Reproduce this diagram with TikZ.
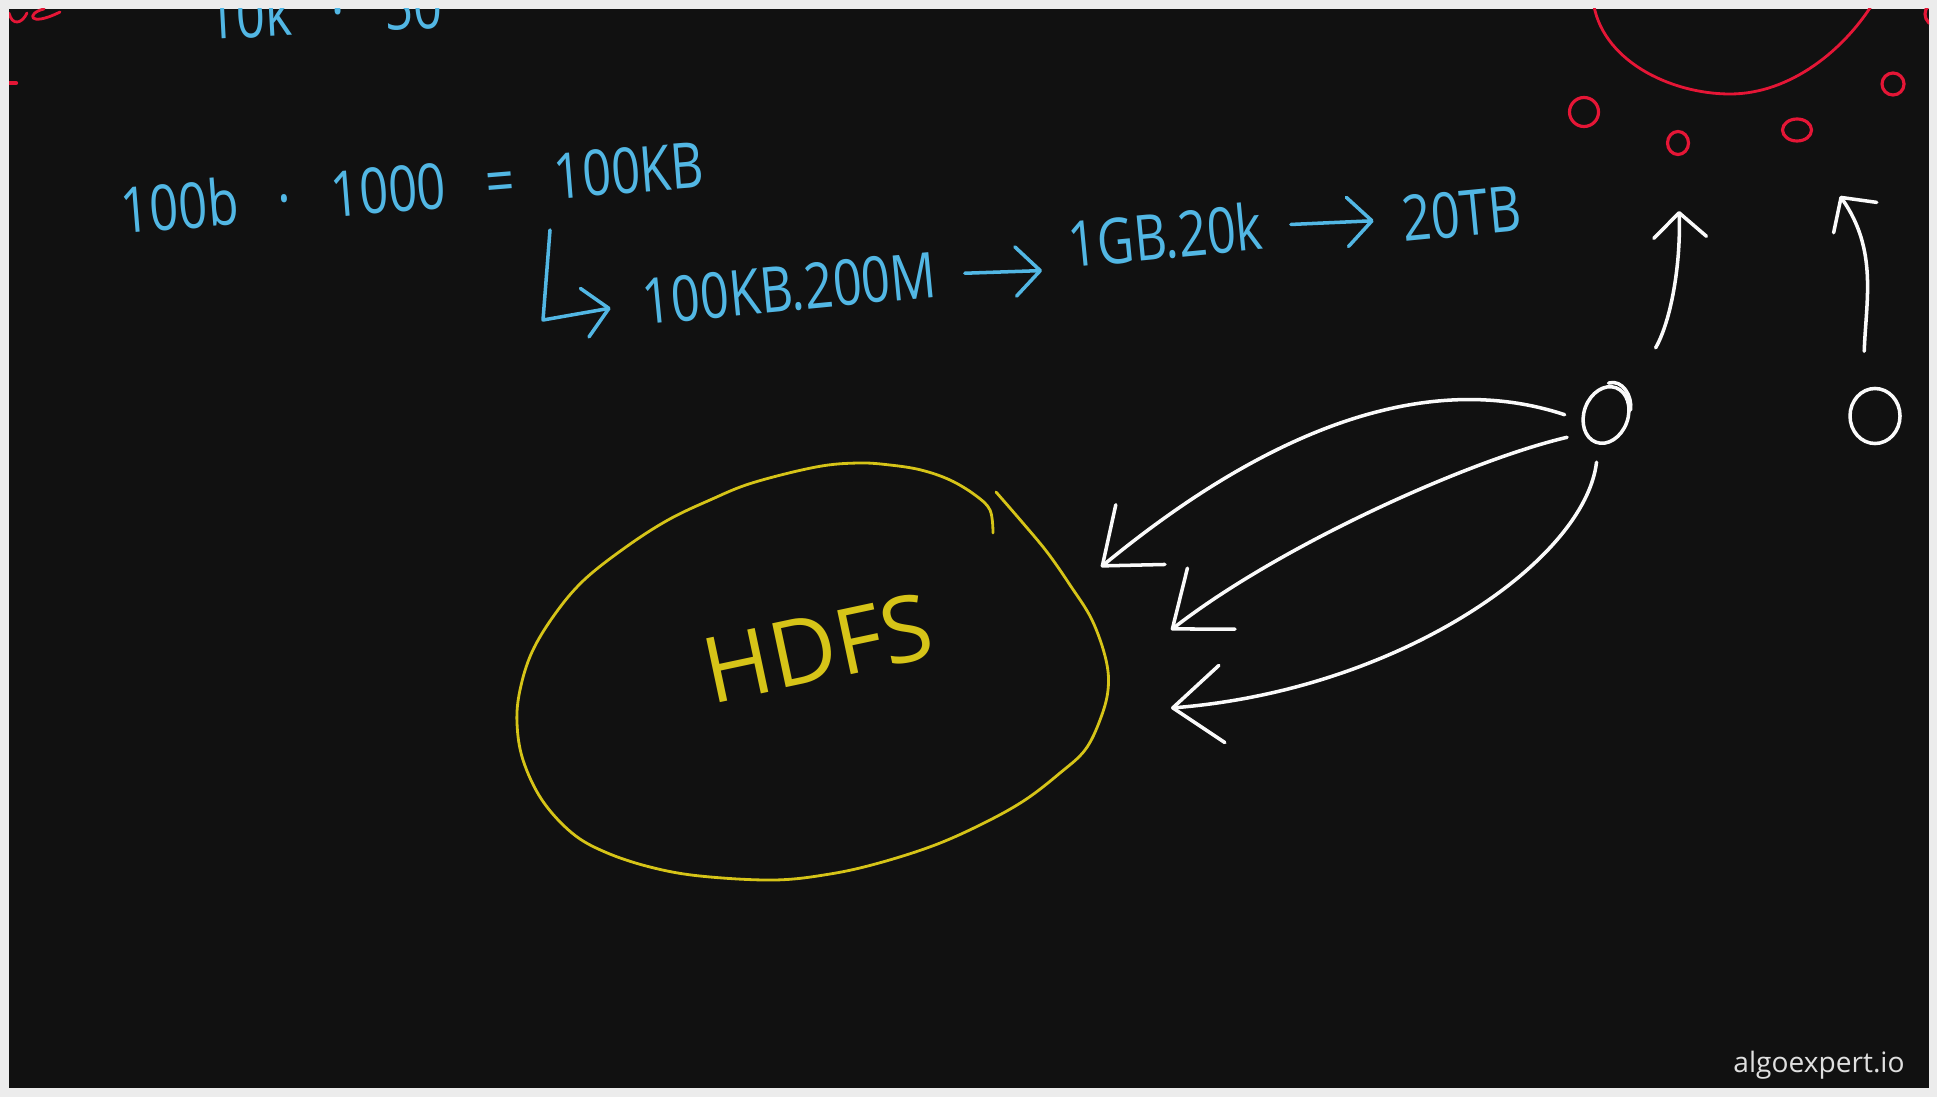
\documentclass[tikz,border=0pt]{standalone}
\usepackage{fontspec}
\setmainfont{Open Sans}
\newfontfamily\handfont{Open Sans}[FakeStretch=0.8,WordSpace=3]
\usepackage{tikz}
\usetikzlibrary{shapes.geometric, arrows.meta, positioning}
\definecolor{boardblack}{RGB}{17,17,17}
\definecolor{framegray}{RGB}{236,236,236}
\definecolor{chalkblue}{RGB}{82,183,228}
\definecolor{chalkyellow}{RGB}{214,196,24}
\definecolor{chalkred}{RGB}{229,22,54}
\definecolor{chalkwhite}{RGB}{250,250,250}
\tikzset{
  chalk/.style={line width=1pt, line cap=round, line join=round},
  blueline/.style={chalk, draw=chalkblue},
  whiteline/.style={chalk, draw=chalkwhite},
  redline/.style={chalk, draw=chalkred, line width=0.8pt},
  handtext/.style={text=chalkblue, font=\handfont\fontsize{18}{20}\selectfont,
    inner sep=0pt, anchor=base west},
  client/.style={ellipse, draw=chalkwhite, line width=1pt, inner sep=0pt},
  reddot/.style={ellipse, draw=chalkred, line width=0.9pt, inner sep=0pt},
  barb/.style={blueline, -{Straight Barb[length=7pt, width=14pt, round]}},
  bigbarb/.style={whiteline, shorten <=5pt, -{Straight Barb[length=14pt, width=22pt, round]}},
  upbarb/.style={whiteline, -{Straight Barb[length=7pt, width=15pt, round]}},
}
\begin{document}
\begin{tikzpicture}[x=0.01cm, y=-0.01cm]
  \fill[framegray] (0,0) rectangle (1937,1097);
  \fill[boardblack] (9,9) rectangle (1929,1088);
  \begin{scope}
    \clip (9,9) rectangle (1929,1088);
    % what is left of earlier notes
    \node[handtext, rotate=3] (prev) at (208,40) {10k · 50};
    \draw[redline] (9,13) .. controls (12,26) and (22,24) .. (27,13);
    \draw[redline] (44,9) .. controls (26,13) and (28,28) .. (60,12);
    \draw[redline, line width=1.2pt] (9,83) -- (16,83);
    \draw[redline] (1593,0) .. controls (1600,60) and (1670,94) .. (1730,94)
      .. controls (1790,94) and (1845,50) .. (1875,0);
    \node[reddot, minimum width=0.29cm, minimum height=0.29cm] (dot1) at (1584,112) {};
    \node[reddot, minimum width=0.21cm, minimum height=0.23cm] (dot2) at (1678,143) {};
    \node[reddot, minimum width=0.29cm, minimum height=0.22cm] (dot3) at (1797,130) {};
    \node[reddot, minimum width=0.22cm, minimum height=0.22cm] (dot4) at (1893,84) {};
    \node[reddot, minimum width=0.24cm, minimum height=0.24cm] (dot5) at (1937,14) {};

    % storage estimate
    \node[handtext, rotate=4.6] (eq) at (122,234) {100b · 1000 = 100KB};
    \coordinate (hooktop) at (550,230);
    \node[handtext, rotate=5.5] (calc) at (644,325) {100KB.200M};
    \node[handtext, rotate=5.5] (gb) at (1070,268) {1GB.20k};
    \node[handtext, rotate=5.5] (tb) at (1404,242) {20TB};
    \draw[barb, shorten >=9pt] (hooktop) -- ++(-7,90) -- (calc.west);
    \draw[barb, shorten <=8pt, shorten >=8pt] (calc.east) -- (gb.south west);
    \draw[barb, shorten <=8pt, shorten >=8pt] (gb.east) -- (tb.west);

    % HDFS
    \draw[chalk, draw=chalkyellow, line width=0.8pt] plot[smooth, tension=0.6] coordinates {
      (993,533) (990,510) (975,495) (950,480) (921,470) (890,465) (858,463)
      (816,467) (752,483) (710,500) (668,520) (626,547) (584,580) (555,614)
      (532,652) (520,690) (517,723) (523,760) (542,800) (572,833) (605,852)
      (650,867) (700,876) (774,880) (830,874) (879,863) (935,845) (984,823)
      (1025,800) (1060,773) (1085,750) (1100,720) (1108,690) (1106,660)
      (1092,620) (1070,585) (1047,552) (1022,522) (996,492)};
    \node[text=chalkyellow, font=\fontsize{26}{28}\selectfont, rotate=12] (hdfs) at (818,648) {HDFS};
    \coordinate (h1) at (1101,567);
    \coordinate (h2) at (1171,630);
    \coordinate (h3) at (1171,708);

    % clients
    \node[client, minimum width=0.44cm, minimum height=0.58cm, rotate=-20] (cl1) at (1606,415) {};
    \node[client, minimum width=0.5cm, minimum height=0.55cm] (cl2) at (1875,416) {};
    \draw[whiteline] (cl1.north) ++(-8,-3) .. controls +(14,-4) and +(2,-14) .. ++(22,27);
    \draw[bigbarb] (cl1.212) .. controls (1460,380) and (1310,395) .. (h1);
    \draw[bigbarb] (cl1.240) .. controls (1470,460) and (1280,545) .. (h2);
    \draw[bigbarb] (cl1.276) .. controls (1585,560) and (1400,690) .. (h3);
    \coordinate (tipA) at (1679,211);
    \coordinate (tipB) at (1840,196);
    \draw[upbarb, shorten <=16pt] (cl1.60) .. controls (1672,319) and (1681,260) .. (tipA);
    \draw[upbarb, shorten <=11pt] (cl2.115) .. controls (1866,300) and (1878,250) .. (tipB);

    \node[text=white!88!black, font=\fontsize{8}{9}\selectfont, anchor=base east] (brand) at (1917,1072) {algoexpert.io};
  \end{scope}
\end{tikzpicture}
\end{document}
